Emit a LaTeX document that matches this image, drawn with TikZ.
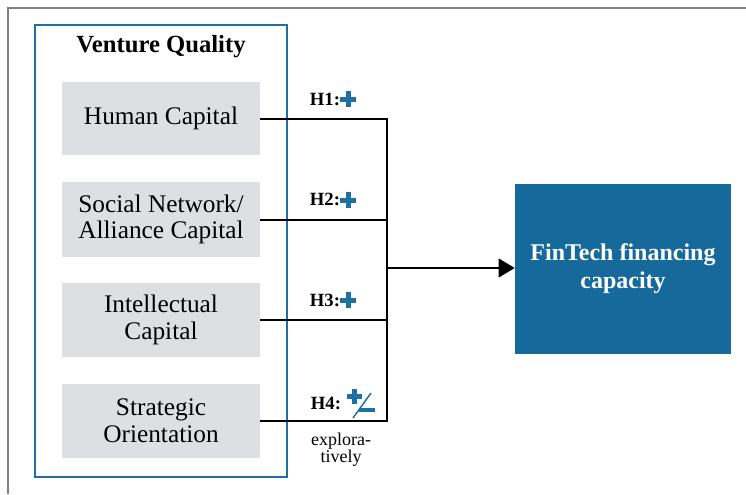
\documentclass[tikz,border=0pt]{standalone}
\usepackage{fontspec}
\setmainfont{Liberation Serif}
\usetikzlibrary{arrows.meta,positioning}
\definecolor{vqblue}{HTML}{1F6FA3}
\definecolor{fcblue}{HTML}{166A9B}
\definecolor{boxgray}{HTML}{DEDFE3}
\tikzset{
    factor/.style={fill=boxgray, minimum width=148.5pt, minimum height=55pt,
        align=center, font=\fontsize{19}{20}\selectfont},
    hyp/.style={font=\fontsize{14}{14}\selectfont\bfseries},
    link/.style={line width=1.5pt},
    plusmark/.pic={
        \fill[vqblue] (-8,-2.5) rectangle (8,2.5);
        \fill[vqblue] (-2.5,-8) rectangle (2.5,8);
    },
    plusminusmark/.pic={
        \fill[vqblue] (-7.5,-2.5) rectangle (7.5,2.5);
        \fill[vqblue] (-2.5,-7.5) rectangle (2.5,7.5);
        \fill[vqblue] (5,11.5) rectangle (21,16);
        \draw[vqblue, line width=1.1pt] (-1,22) -- (17,-3);
    },
}
\begin{document}
\begin{tikzpicture}[x=0.75pt, y=-0.75pt]
    \useasboundingbox (0,0) rectangle (746,494);
    % outer frame
    \draw[gray, line width=0.8pt] (8,494) -- (8,8) -- (746,8);
    % venture quality
    \node[draw=vqblue, line width=1.6pt, minimum width=189pt, minimum height=339pt] (vq) at (161,251) {};
    \node[font=\fontsize{18.5}{20}\selectfont\bfseries] (vqtitle) at (161,47) {Venture Quality};
    \node[factor] (hc) at (161,118.5) {Human Capital};
    \node[factor, minimum height=56pt] (sn) at (161,219.5) {Social Network/\\Alliance Capital};
    \node[factor] (ic) at (161,320) {Intellectual\\Capital};
    \node[factor] (so) at (161,421) {Strategic\\Orientation};
    % outcome
    \node[fill=fcblue, text=white, minimum width=162pt, minimum height=127.5pt, align=center,
        font=\fontsize{18}{21}\selectfont\bfseries] (fc) at (623,269) {FinTech financing\\capacity};
    % connectors
    \coordinate (bus) at (387,268);
    \draw[link] (hc.east) -- (hc.east -| bus) -- (so.east -| bus) -- (so.east);
    \draw[link] (sn.east) -- (sn.east -| bus);
    \draw[link] (ic.east) -- (ic.east -| bus);
    \draw[link, -{Triangle[length=12pt, width=14pt]}] (bus) -- (bus -| fc.west);
    % hypotheses
    \node[hyp] (h1) at (325,99) {H1:};
    \pic at (348,99) {plusmark};
    \node[hyp] (h2) at (325,199) {H2:};
    \pic at (348,200) {plusmark};
    \node[hyp] (h3) at (325,300) {H3:};
    \pic at (348,300) {plusmark};
    \node[hyp] (h4) at (326,403) {H4:};
    \pic at (354,396) {plusminusmark};
    \node[font=\fontsize{13.5}{12.5}\selectfont, align=center] (expl) at (341,450) {explora-\\tively};
\end{tikzpicture}
\end{document}
